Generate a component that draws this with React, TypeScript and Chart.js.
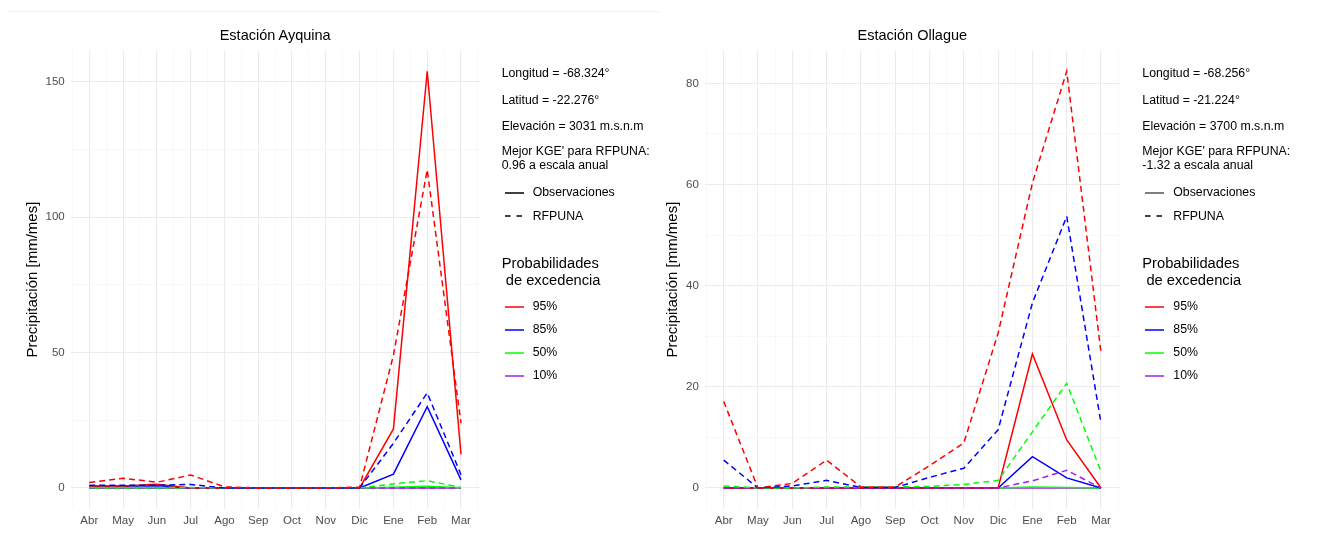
import React, { useEffect, useRef } from 'react';
import { Chart, registerables } from 'chart.js';

Chart.register(...registerables);

// Months of the hydrological year (April to March)
const months = ['Abr', 'May', 'Jun', 'Jul', 'Ago', 'Sep', 'Oct', 'Nov', 'Dic', 'Ene', 'Feb', 'Mar'];

// Exceedance probability classes and their colours
const probLabels = ['95%', '85%', '50%', '10%'];
const probColors = ['#ff0000', '#0000ff', '#00ff00', '#a020f0'];

// Estación Ayquina — observed monthly precipitation [mm/mes]
const ayqObs95 = [0.7, 0.7, 1.4, 0, 0, 0, 0, 0, 0, 21.8, 153.9, 12.4];
const ayqObs85 = [0.6, 0.6, 0.8, 0, 0, 0, 0, 0, 0, 5.1, 30.0, 3.0];
const ayqObs50 = [0, 0, 0, 0, 0, 0, 0, 0, 0, 0.3, 0.6, 0.1];
const ayqObs10 = [0, 0, 0, 0, 0, 0, 0, 0, 0, 0, 0, 0];
// Estación Ayquina — RFPUNA monthly precipitation [mm/mes]
const ayqRf95 = [2.0, 3.6, 2.1, 4.8, 0.4, 0, 0, 0, 0.3, 49.0, 117.5, 23.9];
const ayqRf85 = [1.0, 1.0, 1.0, 1.3, 0, 0, 0, 0, 0, 16.5, 35.1, 4.9];
const ayqRf50 = [0.2, 0.2, 0.2, 0.2, 0, 0, 0, 0, 0, 1.5, 2.7, 0.2];
const ayqRf10 = [0, 0, 0, 0, 0, 0, 0, 0, 0, 0, 0, 0];

// Estación Ollague — observed monthly precipitation [mm/mes]
const ollObs95 = [0, 0, 0, 0, 0, 0, 0, 0, 0, 26.5, 9.5, 0];
const ollObs85 = [0, 0, 0, 0, 0, 0, 0, 0, 0, 6.2, 2.0, 0];
const ollObs50 = [0, 0, 0, 0, 0, 0, 0, 0, 0, 0.2, 0.1, 0];
const ollObs10 = [0, 0, 0, 0, 0, 0, 0, 0, 0, 0, 0, 0];
// Estación Ollague — RFPUNA monthly precipitation [mm/mes]
const ollRf95 = [17.1, 0, 0.9, 5.5, 0.2, 0.2, 4.4, 8.9, 30.6, 60.3, 82.4, 26.7];
const ollRf85 = [5.5, 0, 0.4, 1.5, 0.1, 0.1, 2.1, 3.9, 11.5, 36.6, 53.7, 12.8];
const ollRf50 = [0.4, 0, 0, 0.2, 0.2, 0.2, 0.3, 0.7, 1.5, 11.1, 20.7, 3.2];
const ollRf10 = [0, 0, 0, 0, 0, 0, 0, 0, 0, 1.4, 3.5, 0];

// Station metadata shown beside each panel
const ayqInfo = ['Longitud = -68.324°', 'Latitud = -22.276°', 'Elevación = 3031 m.s.n.m', "Mejor KGE' para RFPUNA:", '0.96 a escala anual'];
const ollInfo = ['Longitud = -68.256°', 'Latitud = -21.224°', 'Elevación = 3700 m.s.n.m', "Mejor KGE' para RFPUNA:", '-1.32 a escala anual'];

const FONT = '"Liberation Sans", Arial, Helvetica, sans-serif';

interface PanelProps {
  obs: number[][];
  rf: number[][];
  yMajor: number;
  axisWidth: number;
  padRight: number;
  titlePad: number;
}

function PrecipPanel({ obs, rf, yMajor, axisWidth, padRight, titlePad }: PanelProps) {
  const ref = useRef<HTMLCanvasElement>(null);

  useEffect(() => {
    if (!ref.current) return;
    const all = [...obs.flat(), ...rf.flat()];
    const maxVal = Math.max(...all);
    const pad = maxVal * 0.05;
    const yMin = -pad;
    const yMax = maxVal + pad;
    const xMin = -0.55;
    const xMax = months.length - 1 + 0.55;

    const mkSet = (data: number[], i: number, dashed: boolean) => ({
      label: probLabels[i] + (dashed ? ' RFPUNA' : ' Obs'),
      data: data.map((v, k) => ({ x: k, y: v })),
      borderColor: probColors[i],
      backgroundColor: probColors[i],
      borderWidth: 1.5,
      borderDash: dashed ? [6, 4] : [],
      borderCapStyle: 'butt' as const,
      pointRadius: 0,
      tension: 0,
      fill: false,
    });

    // first dataset is drawn on top
    const datasets = [
      ...rf.map((d, i) => mkSet(d, i, true)),
      ...obs.map((d, i) => mkSet(d, i, false)),
    ];

    const xTicks: number[] = [];
    for (let v = -0.5; v <= months.length - 0.5 + 1e-9; v += 0.5) xTicks.push(v);
    const yTicks: number[] = [];
    for (let v = 0; v <= yMax; v += yMajor / 2) yTicks.push(v);

    const isInt = (v: number, step: number) => Math.abs(v / step - Math.round(v / step)) < 1e-6;

    const chart = new Chart(ref.current, {
      type: 'line',
      data: { datasets },
      options: {
        animation: false,
        responsive: false,
        maintainAspectRatio: false,
        layout: { padding: { top: 50.4, right: padRight, left: 0, bottom: 0 } },
        plugins: { legend: { display: false }, tooltip: { enabled: false }, title: { display: false } },
        scales: {
          x: {
            type: 'linear',
            min: xMin,
            max: xMax,
            afterBuildTicks: (s: any) => { s.ticks = xTicks.map((v) => ({ value: v })); },
            afterFit: (s: any) => { s.height = 29.2; },
            border: { display: false },
            grid: {
              drawTicks: false,
              color: (c: any) => (isInt(c.tick.value, 1) ? '#ebebeb' : '#f4f4f4'),
              lineWidth: (c: any) => (isInt(c.tick.value, 1) ? 1.1 : 0.6),
            },
            ticks: {
              autoSkip: false,
              maxRotation: 0,
              padding: 5,
              color: '#4d4d4d',
              font: { family: FONT, size: 11.5 },
              callback: (v: any) => (isInt(Number(v), 1) ? months[Math.round(Number(v))] : ''),
            },
          },
          y: {
            type: 'linear',
            min: yMin,
            max: yMax,
            afterBuildTicks: (s: any) => { s.ticks = yTicks.map((v) => ({ value: v })); },
            afterFit: (s: any) => { s.width = axisWidth; },
            border: { display: false },
            grid: {
              drawTicks: false,
              color: (c: any) => (isInt(c.tick.value, yMajor) ? '#ebebeb' : '#f4f4f4'),
              lineWidth: (c: any) => (isInt(c.tick.value, yMajor) ? 1.1 : 0.6),
            },
            ticks: {
              autoSkip: false,
              padding: 6,
              color: '#4d4d4d',
              font: { family: FONT, size: 11.5 },
              callback: (v: any) => (isInt(Number(v), yMajor) ? String(Math.round(Number(v))) : ''),
            },
            title: {
              display: true,
              text: 'Precipitación [mm/mes]',
              color: '#000000',
              font: { family: FONT, size: 15 },
              padding: { top: titlePad, bottom: 0 },
            },
          },
        },
      },
    });
    return () => chart.destroy();
  }, [obs, rf, yMajor, axisWidth, padRight, titlePad]);

  return <canvas ref={ref} width={660} height={538} style={{ width: 660, height: 538, display: 'block' }} />;
}

function SideLegend({ left, info, keyColor }: { left: number; info: string[]; keyColor: string }) {
  const txt = (t: string, x: number, cy: number, size: number, key: string) => (
    <div
      key={key}
      style={{
        position: 'absolute',
        left: x,
        top: cy - size * 0.6,
        fontSize: size,
        lineHeight: `${size * 1.2}px`,
        whiteSpace: 'pre',
        color: '#000',
        fontFamily: FONT,
      }}
    >
      {t}
    </div>
  );
  const sample = (cy: number, color: string, dashed: boolean, key: string) => (
    <svg key={key} style={{ position: 'absolute', left: left + 3, top: cy - 3 }} width={19} height={6}>
      <line x1={0} y1={3} x2={19} y2={3} stroke={color} strokeWidth={1.5} strokeDasharray={dashed ? '5.5 6' : undefined} />
    </svg>
  );
  const infoY = [73.3, 100, 126, 151.7, 165];
  const probY = [306.5, 329.5, 352.7, 375.7];
  const items: React.ReactNode[] = [];
  info.forEach((t, i) => items.push(txt(t, left, infoY[i], 12.3, 'i' + i)));
  items.push(sample(192.7, keyColor, false, 'so'));
  items.push(txt('Observaciones', left + 31, 192.7, 12.3, 'to'));
  items.push(sample(216, '#000', true, 'sr'));
  items.push(txt('RFPUNA', left + 31, 216, 12.3, 'tr'));
  items.push(txt('Probabilidades', left, 264.3, 14.7, 'p1'));
  items.push(txt(' de excedencia', left, 281, 14.7, 'p2'));
  probLabels.forEach((p, i) => {
    items.push(sample(probY[i], probColors[i], false, 'ps' + i));
    items.push(txt(p, left + 31, probY[i], 12.3, 'pt' + i));
  });
  return <>{items}</>;
}

function PanelTitle({ text, cx }: { text: string; cx: number }) {
  return (
    <div
      style={{
        position: 'absolute',
        left: cx - 150,
        width: 300,
        top: 36 - 8.7,
        textAlign: 'center',
        fontSize: 14.5,
        lineHeight: '17.4px',
        fontFamily: FONT,
        color: '#000',
      }}
    >
      {text}
    </div>
  );
}

const ayqObs = [ayqObs95, ayqObs85, ayqObs50, ayqObs10];
const ayqRf = [ayqRf95, ayqRf85, ayqRf50, ayqRf10];
const ollObs = [ollObs95, ollObs85, ollObs50, ollObs10];
const ollRf = [ollRf95, ollRf85, ollRf50, ollRf10];

export default function App() {
  return (
    <div style={{ position: 'absolute', left: 0, top: 0, width: 1320, height: 538, background: '#fff', overflow: 'hidden' }}>
      <div style={{ position: 'absolute', left: 8, top: 11, width: 652, height: 1, background: '#f3f3f3' }} />
      <div style={{ position: 'absolute', left: 0, top: 0 }}>
        <PrecipPanel obs={ayqObs} rf={ayqRf} yMajor={50} axisWidth={70.7} padRight={180.4} titlePad={24.3} />
      </div>
      <div style={{ position: 'absolute', left: 660, top: 0 }}>
        <PrecipPanel obs={ollObs} rf={ollRf} yMajor={20} axisWidth={44.8} padRight={200.1} titlePad={4.3} />
      </div>
      <PanelTitle text="Estación Ayquina" cx={275.2} />
      <PanelTitle text="Estación Ollague" cx={912.3} />
      <SideLegend left={501.7} info={ayqInfo} keyColor="#000" />
      <SideLegend left={1142.3} info={ollInfo} keyColor="#555" />
    </div>
  );
}
